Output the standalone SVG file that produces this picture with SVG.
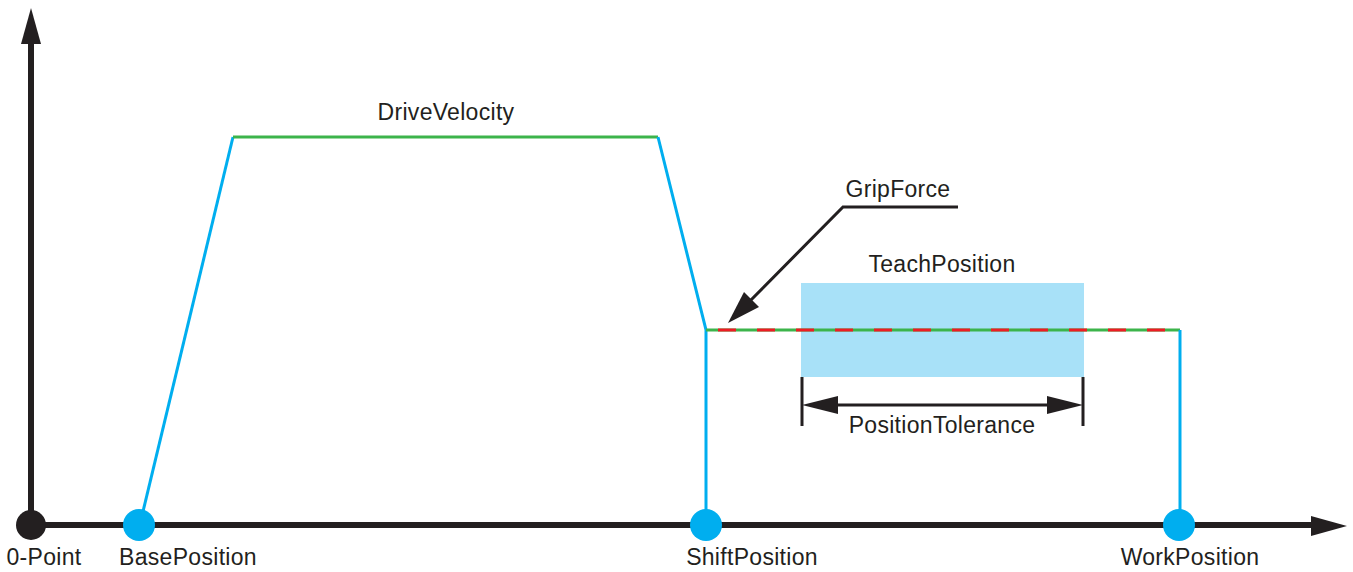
<svg xmlns="http://www.w3.org/2000/svg" width="1353" height="572" viewBox="0 0 1353 572">
<style>
text{font-family:"Liberation Sans",Arial,sans-serif;font-size:23px;letter-spacing:0.3px;fill:#231f20;text-anchor:middle}
.ax{stroke:#231f20;stroke-width:6;fill:none}
.blue{stroke:#00aeef;stroke-width:3;fill:none}
.green{stroke:#3cb44b;stroke-width:3;fill:none}
.blk{stroke:#231f20;stroke-width:3;fill:none}
</style>
<g id="teach-rect"><rect x="801" y="283" width="283" height="94" fill="#a8e1f8"/></g>
<g id="connectors">
<line class="ax" x1="31" y1="525" x2="31" y2="43"/>
<path d="M31,8 L41,44 L21,44 Z" fill="#231f20"/>
<line class="ax" x1="31" y1="525" x2="1312" y2="525"/>
<path d="M1347,526 L1311,516 L1311,536 Z" fill="#231f20"/>
<polyline class="blue" points="140,524 233,137"/>
<line class="green" x1="233" y1="137" x2="658" y2="137"/>
<polyline class="blue" points="658,137 706,330 706,524"/>
<line class="green" x1="706" y1="330" x2="1180" y2="330"/>
<line x1="706" y1="330" x2="1180" y2="330" stroke="#ed1c24" stroke-width="3" stroke-dasharray="18 21" stroke-dashoffset="27"/>
<polyline class="blue" points="1180,330 1180,524"/>
<polyline class="blk" points="958,207 843,207 745,306"/>
<path d="M728,323 L744,292 L759,307 Z" fill="#231f20"/>
<line class="blk" x1="802" y1="377" x2="802" y2="426"/>
<line class="blk" x1="1083" y1="377" x2="1083" y2="426"/>
<line class="blk" x1="836" y1="405" x2="1049" y2="405"/>
<path d="M802,405 L838,396 L838,414 Z" fill="#231f20"/>
<path d="M1083,405 L1047,396 L1047,414 Z" fill="#231f20"/>
</g>
<g id="zero-point"><circle cx="31" cy="525" r="15" fill="#231f20"/><text x="44" y="565">0-Point</text></g>
<g id="base-position"><circle cx="139" cy="525" r="16" fill="#00aeef"/><text x="188" y="565">BasePosition</text></g>
<g id="shift-position"><circle cx="706" cy="525" r="16" fill="#00aeef"/><text x="752" y="565">ShiftPosition</text></g>
<g id="work-position"><circle cx="1179" cy="525" r="16" fill="#00aeef"/><text x="1190" y="565">WorkPosition</text></g>
<g id="drive-velocity"><text x="446" y="120">DriveVelocity</text></g>
<g id="grip-force"><text x="898" y="197">GripForce</text></g>
<g id="teach-position"><text x="942" y="272">TeachPosition</text></g>
<g id="position-tolerance"><text x="942" y="433">PositionTolerance</text></g>
</svg>
